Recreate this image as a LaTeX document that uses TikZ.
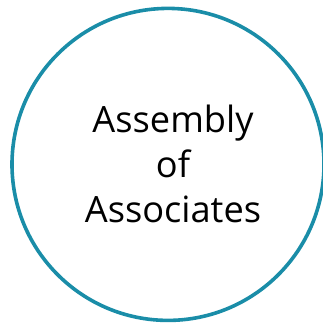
\documentclass[tikz,border=0pt]{standalone}
\usepackage{fontspec}
\setmainfont{Open Sans}
\definecolor{ringteal}{RGB}{26,141,168}
\begin{document}
\begin{tikzpicture}[x=1pt,y=1pt,
  ring/.style={circle,draw=ringteal,line width=3.6pt,minimum size=312pt,inner sep=0pt},
  label/.style={align=center,inner sep=0pt,font=\fontsize{36.2}{44.8}\selectfont,text=black}]
\useasboundingbox (0,0) rectangle (323,325);
\node[ring] (ring) at (168,160.6) {};
\node[label,anchor=base] (txt) at (173,102.7) {Assembly\\of\\Associates};
\end{tikzpicture}
\end{document}
